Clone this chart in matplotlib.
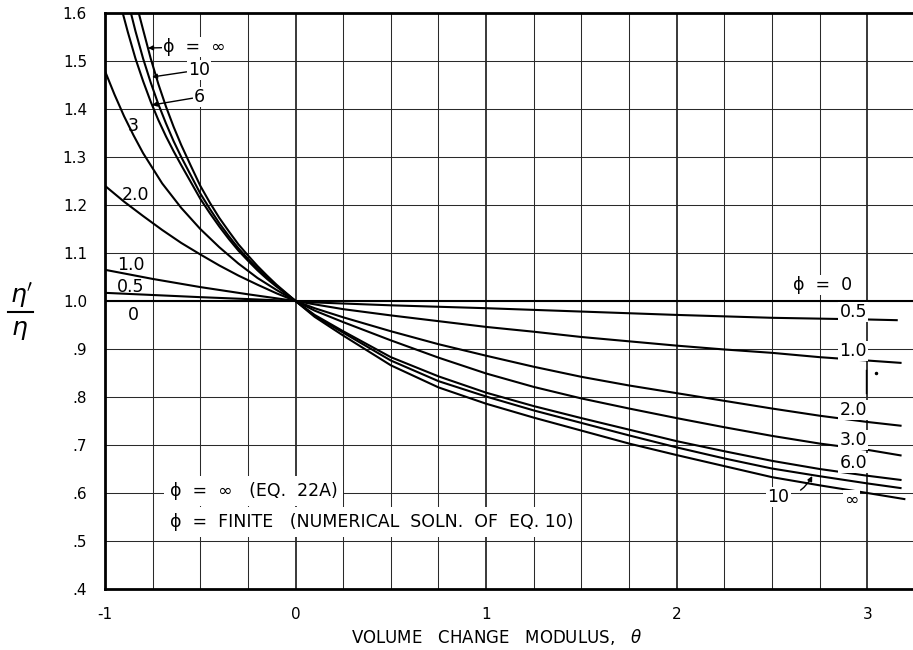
import matplotlib
matplotlib.use("Agg")
import matplotlib.pyplot as plt
import numpy as np

# ---------------- data ----------------
phi0_x = [-1.0, 3.24]
phi0_y = [1.0, 1.0]

phi05_x = [-1.0, -0.5, 0.0, 0.1, 0.5, 1.0, 1.5, 2.0, 2.5, 3.0, 3.16]
phi05_y = [1.017, 1.008, 1.0, 0.997, 0.991, 0.985, 0.978, 0.971, 0.965, 0.9615, 0.960]

phi1_x = [-1.0, -0.75, -0.5, -0.25, 0.0, 0.1, 0.25, 0.5, 0.75, 1.0, 1.25, 1.5, 1.75, 2.0, 2.25, 2.5, 2.75, 3.0, 3.18]
phi1_y = [1.065, 1.046, 1.029, 1.014, 1.0, 0.993, 0.983, 0.970, 0.958, 0.946, 0.936, 0.925, 0.916, 0.907, 0.899, 0.892, 0.883, 0.876, 0.871]

phi2_x = [-1.0, -0.9, -0.8, -0.7, -0.6, -0.5, -0.4, -0.3, -0.2, -0.1, 0.0, 0.1, 0.25, 0.5, 0.75, 1.0, 1.25, 1.5, 1.75, 2.0, 2.25, 2.5, 2.75, 3.0, 3.18]
phi2_y = [1.240, 1.207, 1.177, 1.148, 1.121, 1.097, 1.074, 1.053, 1.034, 1.016, 1.0, 0.985, 0.966, 0.937, 0.910, 0.886, 0.863, 0.842, 0.824, 0.808, 0.792, 0.776, 0.761, 0.748, 0.740]

phi3_x = [-1.0, -0.95, -0.9, -0.85, -0.8, -0.7, -0.6, -0.5, -0.4, -0.3, -0.2, -0.1, 0.0, 0.1, 0.25, 0.5, 0.75, 1.0, 1.25, 1.5, 1.75, 2.0, 2.25, 2.5, 2.75, 3.0, 3.18]
phi3_y = [1.479, 1.430, 1.385, 1.345, 1.308, 1.245, 1.194, 1.150, 1.112, 1.078, 1.048, 1.023, 1.0, 0.980, 0.956, 0.918, 0.882, 0.849, 0.821, 0.797, 0.776, 0.756, 0.737, 0.719, 0.703, 0.690, 0.678]

phi6_x = [-0.907, -0.88, -0.84, -0.80, -0.76, -0.72, -0.68, -0.64, -0.60, -0.55, -0.50, -0.45, -0.40, -0.35, -0.30, -0.25, -0.20, -0.15, -0.10, -0.05, 0.0,
          0.1, 0.25, 0.5, 0.75, 1.0, 1.25, 1.5, 1.75, 2.0, 2.25, 2.5, 2.75, 3.0, 3.18]
phi6_y = [1.600, 1.560, 1.505, 1.458, 1.415, 1.377, 1.343, 1.312, 1.283, 1.248, 1.213, 1.183, 1.155, 1.129, 1.105, 1.084, 1.064, 1.046, 1.030, 1.015, 1.0,
          0.971, 0.937, 0.883, 0.843, 0.809, 0.781, 0.756, 0.732, 0.708, 0.687, 0.667, 0.650, 0.636, 0.627]

phi10_x = [-0.864, -0.84, -0.80, -0.76, -0.72, -0.68, -0.64, -0.60, -0.55, -0.50, -0.45, -0.40, -0.35, -0.30, -0.25, -0.20, -0.15, -0.10, -0.05, 0.0,
           0.1, 0.25, 0.5, 0.75, 1.0, 1.25, 1.5, 1.75, 2.0, 2.25, 2.5, 2.75, 3.0, 3.18]
phi10_y = [1.600, 1.562, 1.505, 1.455, 1.410, 1.370, 1.333, 1.300, 1.262, 1.224, 1.192, 1.162, 1.135, 1.110, 1.088, 1.068, 1.049, 1.032, 1.016, 1.0,
           0.969, 0.934, 0.876, 0.833, 0.801, 0.772, 0.746, 0.720, 0.695, 0.672, 0.651, 0.635, 0.620, 0.610]

phiinf_x = [-0.823, -0.80, -0.76, -0.72, -0.68, -0.64, -0.60, -0.55, -0.50, -0.45, -0.40, -0.35, -0.30, -0.25, -0.20, -0.15, -0.10, -0.05, 0.0,
            0.1, 0.25, 0.5, 0.75, 1.0, 1.25, 1.5, 1.75, 2.0, 2.25, 2.5, 2.75, 3.0, 3.2]
phiinf_y = [1.600, 1.565, 1.505, 1.452, 1.405, 1.363, 1.325, 1.282, 1.240, 1.205, 1.173, 1.145, 1.118, 1.095, 1.073, 1.053, 1.034, 1.017, 1.0,
            0.967, 0.928, 0.866, 0.820, 0.786, 0.757, 0.730, 0.703, 0.679, 0.656, 0.633, 0.616, 0.600, 0.587]

x_ticks = [-1, 0, 1, 2, 3]
x_ticklabels = ["-1", "0", "1", "2", "3"]
y_ticks = [0.4, 0.5, 0.6, 0.7, 0.8, 0.9, 1.0, 1.1, 1.2, 1.3, 1.4, 1.5, 1.6]
y_ticklabels = [".4", ".5", ".6", ".7", ".8", ".9", "1.0", "1.1", "1.2", "1.3", "1.4", "1.5", "1.6"]

# ---------------- figure ----------------
W, H = 913, 650
fig = plt.figure(figsize=(W / 100, H / 100), dpi=100)
L, R, T, B = 105, 913, 13, 589
ax = fig.add_axes([L / W, 1 - B / H, (R - L) / W, (B - T) / H])
ax.set_xlim(-1, 3.24)
ax.set_ylim(0.4, 1.6)

FS = 11
fam = "DejaVu Sans"
GC = "#2a2a2a"

for gx in np.arange(-0.75, 3.24, 0.25):
    lw = 1.3 if abs(gx - round(gx)) < 1e-9 else 0.75
    ax.axvline(gx, color=GC, lw=lw, zorder=1)
for gy in np.arange(0.5, 1.55, 0.1):
    ax.axhline(gy, color=GC, lw=0.75, zorder=1)

curves = [
    (phi0_x, phi0_y), (phi05_x, phi05_y), (phi1_x, phi1_y), (phi2_x, phi2_y),
    (phi3_x, phi3_y), (phi6_x, phi6_y), (phi10_x, phi10_y), (phiinf_x, phiinf_y),
]
for cx, cy in curves:
    ax.plot(cx, cy, color="black", lw=1.5, zorder=3, solid_capstyle="butt",
            solid_joinstyle="round")

for side in ["left", "bottom", "top"]:
    ax.spines[side].set_linewidth(2.0)
ax.spines["right"].set_visible(False)

ax.set_xticks(x_ticks)
ax.set_xticklabels(x_ticklabels, fontsize=FS, fontfamily=fam)
ax.set_yticks(y_ticks)
ax.set_yticklabels(y_ticklabels, fontsize=FS, fontfamily=fam)
ax.tick_params(axis="x", length=0, pad=13)
ax.tick_params(axis="y", length=0, pad=13)

# x axis title
fig.text(497 / W, 1 - 637 / H, "VOLUME   CHANGE   MODULUS,   $\\theta$", fontsize=12, fontfamily=fam,
         ha="center", va="center")

# y label as fraction
fig.text(22 / W, 1 - 296 / H, "$\\eta'$", fontsize=18, ha="center", va="center")
fig.add_artist(plt.Line2D([8 / W, 33 / W], [1 - 312 / H, 1 - 312 / H], color="black", lw=1.5))
fig.text(20 / W, 1 - 330 / H, "$\\eta$", fontsize=18, ha="center", va="center")

def px(xp, yp):
    return (-1 + (xp - L) / 190.5, 1.6 - (yp - T) / 480.0)

box = dict(facecolor="white", edgecolor="none", pad=1)
lbox = dict(facecolor="white", edgecolor="none", pad=4)
lab = dict(fontsize=12.5, fontfamily=fam, zorder=5)
arr = dict(arrowstyle="-|>", lw=1, color="black", shrinkA=0, shrinkB=0, mutation_scale=7)

# left labels
ax.annotate("ϕ  =  ∞", xy=px(148, 48), xytext=px(163, 47), va="center", ha="left",
            arrowprops=arr, bbox=box, **lab)
ax.annotate("10", xy=px(152, 77), xytext=px(188, 70), va="center", ha="left",
            arrowprops=arr, bbox=box, **lab)
ax.annotate("6", xy=px(152, 105), xytext=px(194, 97), va="center", ha="left",
            arrowprops=arr, bbox=box, **lab)
for t, (xp, yp) in [("3", (133, 126)), ("2.0", (135, 195)), ("1.0", (131, 265)),
                    ("0.5", (131, 287)), ("0", (133, 315))]:
    ax.text(*px(xp, yp), t, ha="center", va="center", **lab)

# right labels
ax.text(*px(822, 285), "ϕ  =  0", ha="center", va="center", bbox=box, **lab)
for t, (xp, yp) in [("0.5", (853, 312)), ("1.0", (853, 351)), ("2.0", (853, 410)),
                    ("3.0", (853, 440)), ("6.0", (853, 463)), ("∞", (851, 500))]:
    ax.text(*px(xp, yp), t, ha="center", va="center", bbox=box, **lab)
ax.plot(*zip(px(866, 370), px(866, 393)), color="black", lw=1, zorder=4)
ax.plot(*px(876, 373), marker="o", ms=1.5, color="black", zorder=4)
ax.annotate("10", xy=px(812, 476), xytext=px(778, 497), va="center", ha="center",
            arrowprops=dict(arrowstyle="-|>", lw=1, color="black", shrinkA=8, shrinkB=0,
                            mutation_scale=7, connectionstyle="arc3,rad=0.3"), bbox=box, **lab)

# legend
ax.text(*px(170, 491), "ϕ  =  ∞   (EQ.  22A)", ha="left", va="center", bbox=lbox, **lab)
ax.text(*px(170, 522), "ϕ  =  FINITE   (NUMERICAL  SOLN.  OF  EQ. 10)", ha="left", va="center",
        bbox=lbox, **lab)

fig.savefig("out.png", dpi=100)
